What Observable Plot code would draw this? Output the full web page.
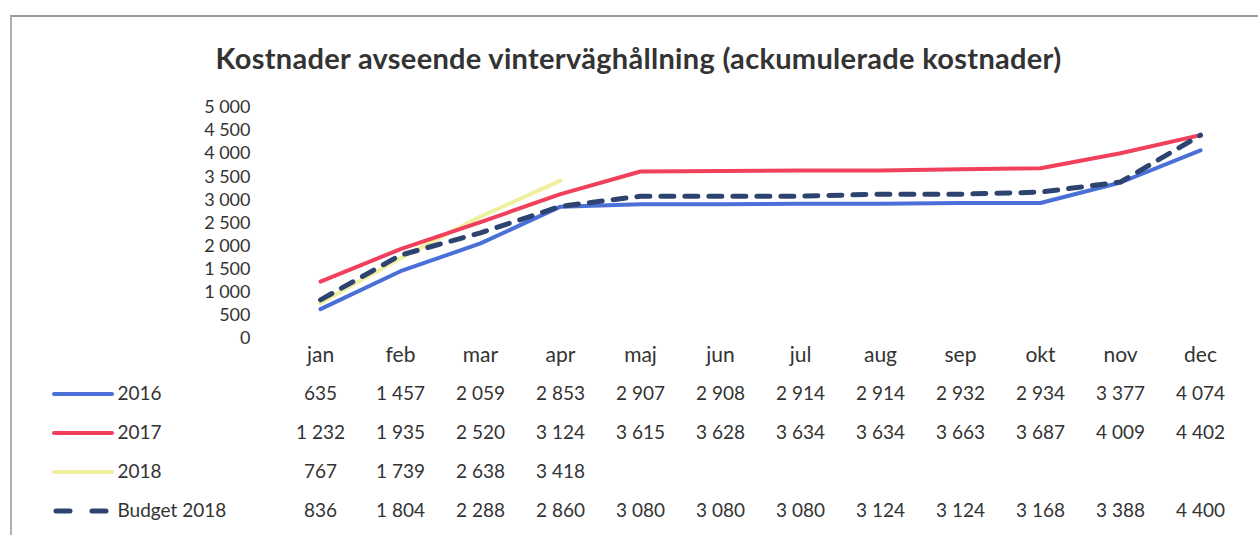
<!DOCTYPE html>
<html>
<head>
<meta charset="utf-8">
<script src="https://cdn.jsdelivr.net/npm/d3@7"></script>
<script src="https://cdn.jsdelivr.net/npm/@observablehq/plot@0.6"></script>
<style>
  html, body { margin: 0; padding: 0; background: #fff; }
  body { width: 1258px; height: 535px; position: relative; overflow: hidden; font-family: Lato, "Open Sans", sans-serif; }
  #frame { position: absolute; left: 10px; top: 15px; width: 1300px; height: 600px; border-top: 2px solid #9a9a9a; border-left: 2px solid #b0b0b0; }
  #title { position: absolute; left: 0; width: 1277px; top: 40px; text-align: center; font-size: 29px; font-weight: bold; color: #333; letter-spacing: 0.3px; }
  #chart { position: absolute; left: 0; top: 90px; }
  #table { position: absolute; left: 0; top: 370px; }
</style>
</head>
<body>
<div id="frame"></div>
<div id="title">Kostnader avseende vinterväghållning (ackumulerade kostnader)</div>
<div id="chart"></div>
<div id="table"></div>
<script>
const months = ["jan","feb","mar","apr","maj","jun","jul","aug","sep","okt","nov","dec"];
const seriesNames = ["2016","2017","2018","Budget 2018"];
const v2016 = [635,1457,2059,2853,2907,2908,2914,2914,2932,2934,3377,4074];
const v2017 = [1232,1935,2520,3124,3615,3628,3634,3634,3663,3687,4009,4402];
const v2018 = [767,1739,2638,3418];
const vBudget = [836,1804,2288,2860,3080,3080,3080,3124,3124,3168,3388,4400];
const yTicks = [0,500,1000,1500,2000,2500,3000,3500,4000,4500,5000];
const colors = ["#4a70d8","#f0405c","#eef0a0","#2e4470"];

const valuesBySeries = [v2016, v2017, v2018, vBudget];
const rows = [];
seriesNames.forEach((s, i) => {
  valuesBySeries[i].forEach((v, j) => rows.push({series: s, month: months[j], value: v}));
});
const fmt = v => d3.format(",")(v).replace(/,/g, " ");

const font = "Lato, 'Open Sans', sans-serif";

const chart = Plot.plot({
  width: 1258, height: 280,
  marginLeft: 276, marginRight: 15, marginTop: 17, marginBottom: 32,
  style: {fontFamily: font, fontSize: "18px", color: "#333", background: "transparent"},
  x: {type: "band", domain: months, padding: 0, label: null},
  y: {domain: [0, 5000], label: null},
  marks: [
    Plot.axisX({tickSize: 0, tickPadding: 9, fontSize: 21, label: null}),
    Plot.axisY({ticks: yTicks, tickFormat: fmt, tickSize: 0, tickPadding: 26, label: null, fontSize: 18}),
    Plot.line(rows.filter(d => d.series === "2018"), {x: "month", y: "value", stroke: colors[2], strokeWidth: 4}),
    Plot.line(rows.filter(d => d.series === "2016"), {x: "month", y: "value", stroke: colors[0], strokeWidth: 4}),
    Plot.line(rows.filter(d => d.series === "2017"), {x: "month", y: "value", stroke: colors[1], strokeWidth: 4}),
    Plot.line(rows.filter(d => d.series === "Budget 2018"), {x: "month", y: "value", stroke: colors[3], strokeWidth: 5, strokeDasharray: "13 11", strokeLinecap: "round"})
  ]
});
document.getElementById("chart").append(chart);

const solidSeries = seriesNames.slice(0, 3);
const table = Plot.plot({
  width: 1258, height: 165,
  marginLeft: 276, marginRight: 15, marginTop: 3.5, marginBottom: 5.5,
  style: {fontFamily: font, fontSize: "19px", color: "#333", background: "transparent"},
  x: {type: "band", domain: months, padding: 0, axis: null},
  y: {type: "band", domain: seriesNames, padding: 0, axis: null},
  marks: [
    Plot.ruleY(solidSeries, {y: d => d, stroke: d => colors[seriesNames.indexOf(d)], strokeWidth: 4,
      strokeLinecap: "round", insetLeft: -222, insetRight: 1131}),
    Plot.ruleY(["Budget 2018"], {y: d => d, stroke: colors[3], strokeWidth: 5,
      strokeDasharray: "14 22", strokeLinecap: "round", insetLeft: -220, insetRight: 1133}),
    Plot.text(seriesNames, {y: d => d, text: d => d, frameAnchor: "left", textAnchor: "start", dx: 117 - 276, fontSize: 19, fill: "#333"}),
    Plot.text(rows, {x: "month", y: "series", text: d => fmt(d.value), fontSize: 19, fill: "#333"})
  ]
});
document.getElementById("table").append(table);
</script>
</body>
</html>
